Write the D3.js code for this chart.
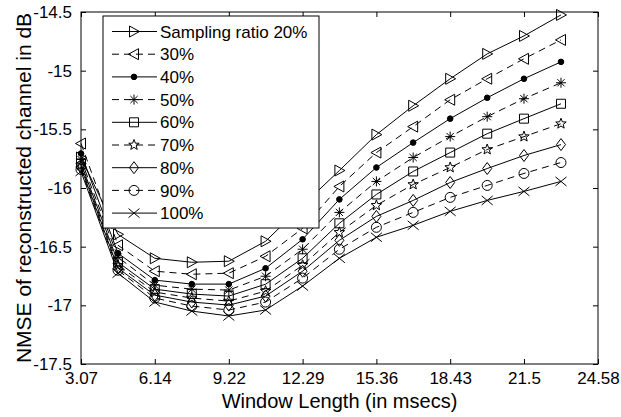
<!DOCTYPE html>
<html><head><meta charset="utf-8">
<script src="https://cdn.jsdelivr.net/npm/d3@7"></script>
<style>body{margin:0;background:#fff;} svg{display:block;}</style>
</head><body>
<script>
const xValues = [3.07, 4.61, 6.14, 7.68, 9.22, 10.75, 12.29, 13.82, 15.36, 16.89, 18.43, 19.97, 21.50, 23.04];
const seriesNames = ["Sampling ratio 20%", "30%", "40%", "50%", "60%", "70%", "80%", "90%", "100%"];
const s20  = [-15.74, -16.395, -16.599, -16.633, -16.624, -16.454, -16.148, -15.851, -15.545, -15.299, -15.069, -14.857, -14.704, -14.525];
const s30  = [-15.621, -16.488, -16.709, -16.735, -16.726, -16.582, -16.344, -15.987, -15.698, -15.477, -15.248, -15.069, -14.899, -14.738];
const s40  = [-15.706, -16.556, -16.785, -16.819, -16.819, -16.684, -16.437, -16.097, -15.825, -15.613, -15.409, -15.231, -15.069, -14.925];
const s50  = [-15.757, -16.59, -16.828, -16.862, -16.87, -16.752, -16.522, -16.208, -15.944, -15.74, -15.562, -15.392, -15.239, -15.103];
const s60  = [-15.791, -16.633, -16.862, -16.904, -16.921, -16.82, -16.599, -16.301, -16.055, -15.859, -15.698, -15.537, -15.409, -15.282];
const s70  = [-15.808, -16.658, -16.887, -16.938, -16.964, -16.879, -16.658, -16.378, -16.148, -15.97, -15.825, -15.672, -15.562, -15.452];
const s80  = [-15.825, -16.684, -16.913, -16.972, -16.998, -16.921, -16.709, -16.446, -16.242, -16.106, -15.953, -15.834, -15.723, -15.63];
const s90  = [-15.842, -16.701, -16.938, -17.006, -17.04, -16.972, -16.768, -16.522, -16.335, -16.208, -16.08, -15.978, -15.876, -15.783];
const s100 = [-15.859, -16.726, -16.972, -17.049, -17.091, -17.04, -16.836, -16.599, -16.42, -16.318, -16.199, -16.106, -16.029, -15.944];
const seriesValues = [s20, s30, s40, s50, s60, s70, s80, s90, s100];
const markers = ["triRight", "triLeft", "dot", "asterisk", "square", "star", "diamond", "circle", "cross"];
const dashed = [false, true, false, true, false, true, false, true, false];
const xTicks = [3.07, 6.14, 9.22, 12.29, 15.36, 18.43, 21.5, 24.58];
const xTickLabels = ["3.07", "6.14", "9.22", "12.29", "15.36", "18.43", "21.5", "24.58"];
const yTicks = [-14.5, -15, -15.5, -16, -16.5, -17, -17.5];
const yTickLabels = ["-14.5", "-15", "-15.5", "-16", "-16.5", "-17", "-17.5"];

const W = 621, H = 417;
const m = {left: 81, right: 23, top: 12, bottom: 53};
const font = "'Liberation Sans', Arial, sans-serif";
const svg = d3.select("body").append("svg").attr("width", W).attr("height", H)
  .style("font-family", font);

const x = d3.scaleLinear().domain([3.07, 24.58]).range([m.left, W - m.right]);
const y = d3.scaleLinear().domain([-17.5, -14.5]).range([H - m.bottom, m.top]);

function markerPath(t) {
  const p = d3.path();
  switch (t) {
    case "triRight": p.moveTo(-4.5,-5.5); p.lineTo(5.5,0); p.lineTo(-4.5,5.5); p.closePath(); break;
    case "triLeft": p.moveTo(4.5,-5.5); p.lineTo(-5.5,0); p.lineTo(4.5,5.5); p.closePath(); break;
    case "dot": p.arc(0,0,2.8,0,2*Math.PI); break;
    case "asterisk": p.moveTo(-5,0); p.lineTo(5,0); p.moveTo(0,-5); p.lineTo(0,5);
      p.moveTo(-3.6,-3.6); p.lineTo(3.6,3.6); p.moveTo(-3.6,3.6); p.lineTo(3.6,-3.6); break;
    case "square": p.rect(-4.5,-4.5,9,9); break;
    case "star": {
      for (let i = 0; i < 10; i++) {
        const r = i % 2 === 0 ? 5.5 : 2.3;
        const a = -Math.PI/2 + i * Math.PI/5;
        if (i === 0) p.moveTo(r*Math.cos(a), r*Math.sin(a)); else p.lineTo(r*Math.cos(a), r*Math.sin(a));
      }
      p.closePath(); break;
    }
    case "diamond": p.moveTo(0,-6); p.lineTo(4.5,0); p.lineTo(0,6); p.lineTo(-4.5,0); p.closePath(); break;
    case "circle": p.arc(0,0,5,0,2*Math.PI); break;
    case "cross": p.moveTo(-5.5,-4.5); p.lineTo(5.5,4.5); p.moveTo(-5.5,4.5); p.lineTo(5.5,-4.5); break;
  }
  return p.toString();
}

const line = d3.line().x((d,i) => x(xValues[i])).y(d => y(d));
const plot = svg.append("g");

seriesValues.forEach((vals, si) => {
  plot.append("path").datum(vals).attr("d", line)
    .attr("fill", "none").attr("stroke", "#000").attr("stroke-width", 1)
    .attr("stroke-dasharray", dashed[si] ? "7,5" : null);
  plot.selectAll(null).data(vals).enter().append("path")
    .attr("transform", (d,i) => `translate(${x(xValues[i])},${y(d)})`)
    .attr("d", markerPath(markers[si]))
    .attr("fill", markers[si] === "dot" ? "#000" : "none")
    .attr("stroke", "#000").attr("stroke-width", 1);
});

// Axes box
const x0 = m.left, x1 = W - m.right, y0 = m.top, y1 = H - m.bottom;
svg.append("rect").attr("x", x0).attr("y", y0).attr("width", x1 - x0).attr("height", y1 - y0)
  .attr("fill", "none").attr("stroke", "#000").attr("stroke-width", 1);

// Axes with inward ticks
const xAxisB = d3.axisBottom(x).tickValues(xTicks).tickFormat((d,i) => xTickLabels[i]).tickSizeInner(-5).tickSizeOuter(0).tickPadding(8);
const gxb = svg.append("g").attr("transform", `translate(0,${y1})`).call(xAxisB);
const xAxisT = d3.axisTop(x).tickValues(xTicks).tickFormat("").tickSizeInner(-5).tickSizeOuter(0);
const gxt = svg.append("g").attr("transform", `translate(0,${y0})`).call(xAxisT);
const yAxisL = d3.axisLeft(y).tickValues(yTicks).tickFormat((d,i) => yTickLabels[i]).tickSizeInner(-5).tickSizeOuter(0).tickPadding(9);
const gyl = svg.append("g").attr("transform", `translate(${x0},0)`).call(yAxisL);
const yAxisR = d3.axisRight(y).tickValues(yTicks).tickFormat("").tickSizeInner(-5).tickSizeOuter(0);
const gyr = svg.append("g").attr("transform", `translate(${x1},0)`).call(yAxisR);
[gxb, gxt, gyl, gyr].forEach(g => {
  g.select(".domain").remove();
  g.selectAll("line").attr("stroke", "#000");
  g.selectAll("text").attr("fill", "#000").style("font-size", "17px").style("font-family", font);
});

// Axis titles
svg.append("text").attr("x", (x0 + x1) / 2).attr("y", 408).attr("text-anchor", "middle")
  .style("font-size", "20px").attr("fill", "#000").text("Window Length (in msecs)");
svg.append("text").attr("transform", `translate(31,${(y0 + y1) / 2}) rotate(-90)`).attr("text-anchor", "middle")
  .style("font-size", "21px").attr("fill", "#000").text("NMSE of reconstructed channel in dB");

// Legend
const lg = svg.append("g");
lg.append("rect").attr("x", 103).attr("y", 16).attr("width", 216).attr("height", 212)
  .attr("fill", "#fff").attr("stroke", "#000").attr("stroke-width", 1);
seriesNames.forEach((name, si) => {
  const ly = 31.5 + si * 22.7;
  lg.append("line").attr("x1", 112).attr("x2", 157).attr("y1", ly).attr("y2", ly)
    .attr("stroke", "#000").attr("stroke-width", 1).attr("stroke-dasharray", dashed[si] ? "7,5" : null);
  lg.append("path").attr("transform", `translate(134,${ly})`).attr("d", markerPath(markers[si]))
    .attr("fill", markers[si] === "dot" ? "#000" : "none").attr("stroke", "#000");
  lg.append("text").attr("x", 160).attr("y", ly).attr("dy", "0.36em")
    .style("font-size", "17px").attr("fill", "#000").text(name);
});
</script>
</body></html>
